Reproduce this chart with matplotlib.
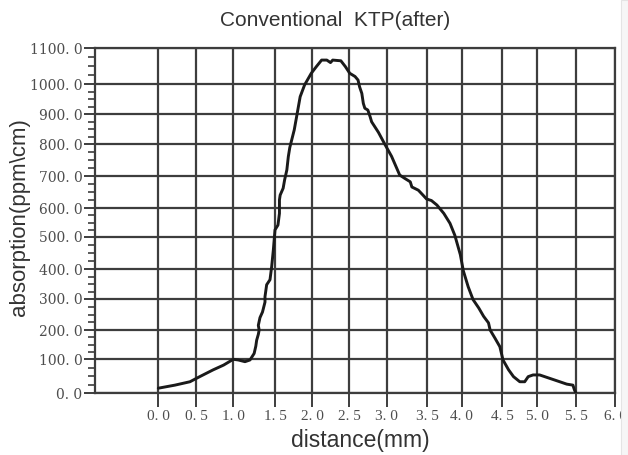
import numpy as np
import matplotlib.pyplot as plt
from matplotlib.ticker import FixedLocator, MultipleLocator, FuncFormatter
from matplotlib.patches import Rectangle

# absorption profile across the crystal
dist_mm = [0.00, 0.22, 0.42, 0.55, 0.73, 0.87, 1.00, 1.06, 1.14, 1.20,
           1.25, 1.27, 1.28, 1.30, 1.31, 1.30, 1.32, 1.35, 1.38, 1.38,
           1.40, 1.44, 1.46, 1.48, 1.50, 1.54, 1.56, 1.56, 1.57, 1.61,
           1.63, 1.66, 1.68, 1.70, 1.76, 1.80, 1.84, 1.90, 1.99, 2.06,
           2.13, 2.20, 2.25, 2.28, 2.39, 2.45, 2.51, 2.58, 2.62, 2.64,
           2.67, 2.69, 2.71, 2.75, 2.78, 2.80, 2.89, 2.98, 3.06, 3.16,
           3.22, 3.29, 3.31, 3.39, 3.45, 3.49, 3.56, 3.64, 3.74, 3.83,
           3.90, 3.98, 4.02, 4.08, 4.14, 4.21, 4.27, 4.33, 4.35, 4.41,
           4.47, 4.51, 4.59, 4.66, 4.75, 4.82, 4.87, 4.94, 5.03, 5.16,
           5.29, 5.38, 5.46, 5.48, 5.50]
absorption = [15, 24, 34, 49, 69, 83, 100, 98, 93, 98,
              120, 145, 165, 185, 200, 215, 240, 258, 290, 308,
              348, 365, 408, 459, 524, 541, 582, 626, 641, 662,
              688, 719, 761, 790, 848, 903, 958, 997, 1030, 1049,
              1067, 1067, 1060, 1067, 1065, 1049, 1030, 1021, 1011, 991,
              969, 936, 920, 914, 892, 875, 840, 798, 762, 703,
              693, 682, 666, 656, 640, 629, 624, 610, 582, 547,
              505, 445, 395, 341, 298, 271, 244, 223, 200, 172,
              143, 98, 69, 49, 34, 34, 49, 54, 54, 44,
              34, 27, 24, 10, 0]

x_ticks = np.arange(0, 6.01, 0.5)
y_ticks = np.arange(0, 1101, 100)

# printed grid is unevenly spaced -> piecewise linear scales (knot -> pixel)
x_knots = [-0.84] + list(x_ticks)
x_knot_px = [95, 158.3, 196, 233.3, 275, 312, 349, 386.7, 427.3, 461.7,
             502.3, 537.3, 576, 615]
y_knots = list(y_ticks)
y_knot_px = [61.7, 95.7, 125, 156, 185.7, 218.3, 246.7, 279, 310.7,
             340.7, 371, 406.7]


def make_scale(knots, px):
    k = np.asarray(knots, float)
    p = np.asarray(px, float)
    s0 = (p[1] - p[0]) / (k[1] - k[0])
    s1 = (p[-1] - p[-2]) / (k[-1] - k[-2])

    def fwd(v):
        v = np.asarray(v, float)
        out = np.interp(v, k, p)
        out = np.where(v < k[0], p[0] + (v - k[0]) * s0, out)
        return np.where(v > k[-1], p[-1] + (v - k[-1]) * s1, out)

    def inv(v):
        v = np.asarray(v, float)
        out = np.interp(v, p, k)
        out = np.where(v < p[0], k[0] + (v - p[0]) / s0, out)
        return np.where(v > p[-1], k[-1] + (v - p[-1]) / s1, out)

    return fwd, inv


def spaced(v, pos):
    return f"{v:.1f}".replace('.', '. ')


W, H = 628, 455
fig = plt.figure(figsize=(W / 100, H / 100), dpi=100)
ax = fig.add_axes([95 / W, 61.7 / H, 520 / W, (406.7 - 61.7) / H])

ax.set_xscale('function', functions=make_scale(x_knots, x_knot_px))
ax.set_yscale('function', functions=make_scale(y_knots, y_knot_px))
ax.set_xlim(-0.84, 6.0)
ax.set_ylim(0, 1100)

ax.plot(dist_mm, absorption, color='#1a1a1a', lw=2.1, zorder=3,
        solid_joinstyle='round', solid_capstyle='round')

ax.xaxis.set_major_locator(FixedLocator(x_ticks))
ax.xaxis.set_minor_locator(FixedLocator([]))
ax.yaxis.set_major_locator(FixedLocator(y_ticks))
ax.yaxis.set_minor_locator(MultipleLocator(25))
ax.xaxis.set_major_formatter(FuncFormatter(spaced))
ax.yaxis.set_major_formatter(FuncFormatter(spaced))

grid_c = '#3d3d3d'
ax.grid(True, which='major', color=grid_c, lw=1.6)
for s in ax.spines.values():
    s.set_color(grid_c)
    s.set_linewidth(1.6)

ax.tick_params(axis='x', direction='out', length=10, width=1.4, color=grid_c,
               labelsize=11, labelcolor='#4d4d4d', pad=2)
ax.tick_params(axis='y', which='major', direction='out', length=8, width=1.4,
               color=grid_c, labelsize=10, labelcolor='#4d4d4d', pad=1)
ax.tick_params(axis='y', which='minor', direction='out', length=5, width=1.2,
               color=grid_c)
for lab in ax.get_xticklabels():
    lab.set_fontfamily('Liberation Serif')
for lab in ax.get_yticklabels():
    lab.set_fontfamily('DejaVu Serif')

fig.text(335 / W, 1 - 21 / H, "Conventional  KTP(after)", ha='center',
         va='center', fontsize=15, family='Liberation Sans', color='#333333')
fig.text(20 / W, 1 - 217 / H, "absorption(ppm\\cm)", rotation=90, ha='center',
         va='center', fontsize=16, family='Liberation Sans', color='#333333')
fig.text(360 / W, 1 - 440 / H, "distance(mm)", ha='center', va='center',
         fontsize=16.5, family='Liberation Sans', color='#333333')

# strip along the right edge
fig.add_artist(Rectangle((621 / W, 0), 7 / W, 1, transform=fig.transFigure,
                         facecolor='#f6f6f6', edgecolor='#e4e4e4', lw=0.8,
                         zorder=10))

fig.savefig('out.png', dpi=100)
